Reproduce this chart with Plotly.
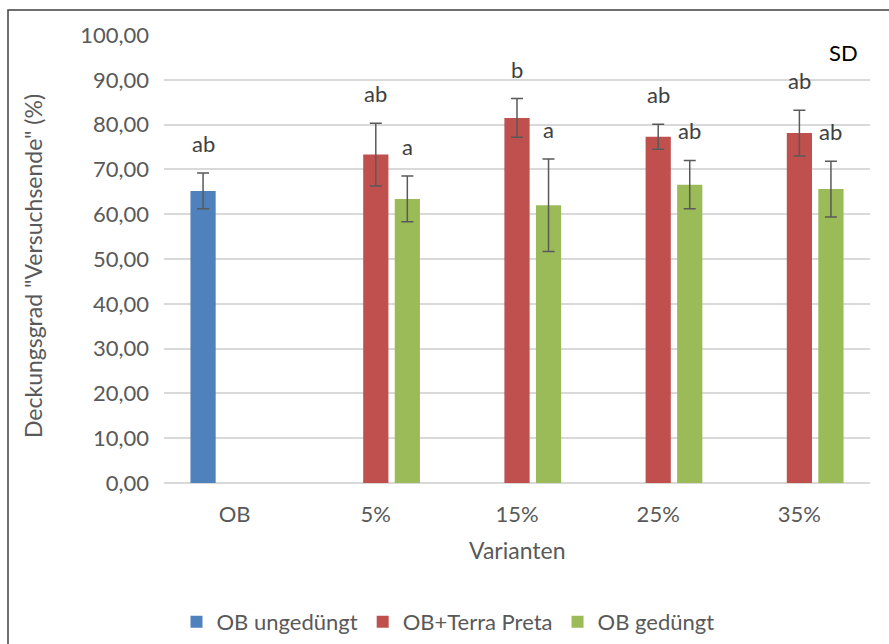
import plotly.graph_objects as go

# Deckungsgrad am Versuchsende je Variante
varianten = ["OB", "5%", "15%", "25%", "35%"]

ob_ungeduengt = [65.2, None, None, None, None]
ob_ungeduengt_sd = [4.0, None, None, None, None]
ob_ungeduengt_sig = ["ab", "", "", "", ""]

ob_terra_preta = [None, 73.3, 81.5, 77.3, 78.1]
ob_terra_preta_sd = [None, 7.0, 4.3, 2.8, 5.1]
ob_terra_preta_sig = ["", "ab", "b", "ab", "ab"]

ob_geduengt = [None, 63.4, 62.0, 66.6, 65.6]
ob_geduengt_sd = [None, 5.1, 10.3, 5.4, 6.2]
ob_geduengt_sig = ["", "a", "a", "ab", "ab"]

FONT = "Lato"
GREY = "#595959"

# plot area in pixels (889 x 644 page)
L, R, T, B = 164, 19, 35, 161
W, H = 889 - L - R, 644 - T - B


def px_x(px):
    return (px - L) / W


def px_y(py):
    return (644 - B - py) / H


series = [
    ("OB ungedüngt", ob_ungeduengt, ob_ungeduengt_sd, ob_ungeduengt_sig, "#4F81BD"),
    ("OB+Terra Preta", ob_terra_preta, ob_terra_preta_sd, ob_terra_preta_sig, "#C0504D"),
    ("OB gedüngt", ob_geduengt, ob_geduengt_sd, ob_geduengt_sig, "#9BBB59"),
]

BARGAP = 0.33
slot = (1 - BARGAP) / len(series)

fig = go.Figure()
annotations = []
for k, (name, vals, sd, sig, color) in enumerate(series):
    fig.add_trace(go.Bar(
        name=name, x=varianten, y=vals,
        marker=dict(color=color, line=dict(width=0)),
        error_y=dict(type="data", array=sd, visible=True,
                     color=GREY, thickness=1.5, width=6),
    ))
    offset = (k - (len(series) - 1) / 2) * slot
    for i, (v, s, lab) in enumerate(zip(vals, sd, sig)):
        if v is None or not lab:
            continue
        annotations.append(dict(
            x=i + offset, y=v + s, xref="x", yref="y",
            text=lab, showarrow=False, xanchor="center", yanchor="bottom",
            yshift=14,
            font=dict(family=FONT, size=22, color="#404040"),
        ))

# axis titles and panel label
annotations.append(dict(
    x=px_x(33), y=px_y(266), xref="paper", yref="paper",
    xanchor="center", yanchor="middle",
    text='Deckungsgrad "Versuchsende" (%)', textangle=-90, showarrow=False,
    font=dict(family=FONT, size=23, color=GREY),
))
annotations.append(dict(
    x=px_x(517), y=px_y(550), xref="paper", yref="paper",
    xanchor="center", yanchor="middle",
    text="Varianten", showarrow=False,
    font=dict(family=FONT, size=23, color=GREY),
))
annotations.append(dict(
    x=px_x(843), y=px_y(52), xref="paper", yref="paper",
    xanchor="center", yanchor="middle",
    text="SD", showarrow=False,
    font=dict(family=FONT, size=22, color="#000000"),
))

fig.update_layout(
    width=889, height=644,
    margin=dict(l=L, r=R, t=T, b=B, pad=0, autoexpand=False),
    paper_bgcolor="white", plot_bgcolor="white",
    barmode="group", bargap=BARGAP, bargroupgap=0.2,
    separators=",.",
    font=dict(family=FONT, color=GREY, size=22),
    showlegend=True,
    legend=dict(
        orientation="h", x=px_x(448), xanchor="center",
        y=px_y(622), yanchor="middle",
        font=dict(family=FONT, size=22, color=GREY),
        bgcolor="rgba(0,0,0,0)",
    ),
    annotations=annotations,
    shapes=[dict(
        type="rect", xref="paper", yref="paper",
        x0=px_x(8), x1=px_x(900),
        y0=px_y(700), y1=px_y(10),
        line=dict(color="#404040", width=1.5), fillcolor="rgba(0,0,0,0)",
        layer="above",
    )],
)

fig.update_xaxes(
    type="category", showgrid=False, showline=False, ticks="",
    tickfont=dict(family=FONT, size=22, color=GREY),
    ticklabelstandoff=16,
)
fig.update_yaxes(
    range=[0, 100], dtick=10, tickformat=".2f",
    showgrid=True, gridcolor="#D9D9D9", gridwidth=1.5,
    zeroline=True, zerolinecolor="#D9D9D9", zerolinewidth=1.5,
    showline=False, ticks="",
    tickfont=dict(family=FONT, size=22, color=GREY),
    ticklabelstandoff=14,
)

fig.write_html("out.html")
